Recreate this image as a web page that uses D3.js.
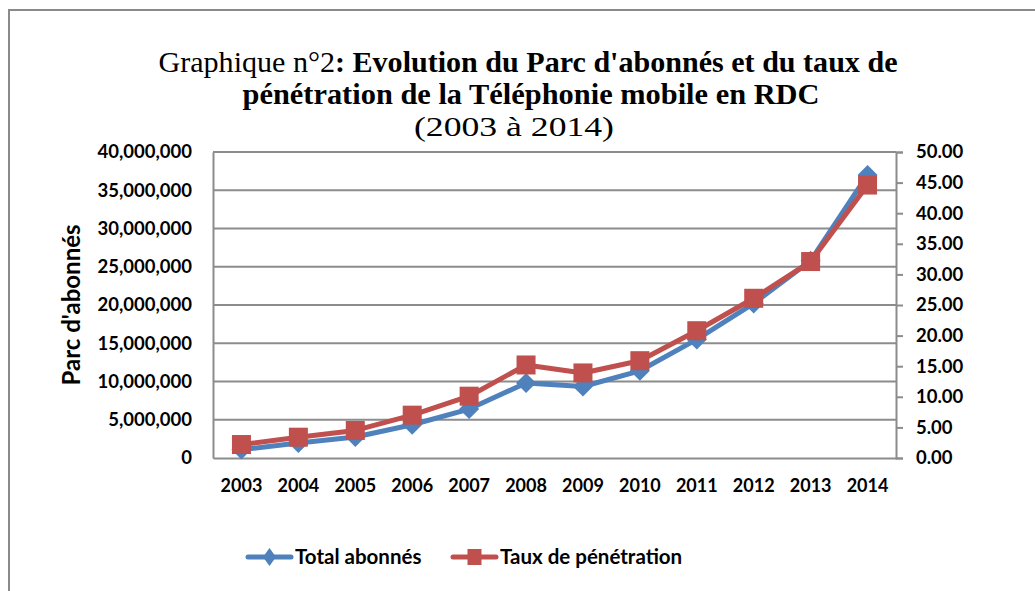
<!DOCTYPE html>
<html>
<head>
<meta charset="utf-8">
<script src="https://cdn.jsdelivr.net/npm/d3@7"></script>
<style>
  body { margin: 0; background: #fff; }
  svg { display: block; }
</style>
</head>
<body>
<svg width="1035" height="591"></svg>
<script>
// Data
const years = ["2003", "2004", "2005", "2006", "2007", "2008", "2009", "2010", "2011", "2012", "2013", "2014"];
const totalAbonnes = [1100000, 1950000, 2750000, 4350000, 6400000, 9800000, 9350000, 11400000, 15500000, 20200000, 25800000, 37000000];
const tauxPenetration = [2.2, 3.4, 4.5, 7.0, 10.1, 15.2, 13.9, 15.9, 20.8, 26.1, 32.1, 44.6];
const leftTicks = [0, 5000000, 10000000, 15000000, 20000000, 25000000, 30000000, 35000000, 40000000];
const rightTicks = [0, 5, 10, 15, 20, 25, 30, 35, 40, 45, 50];

const blue = "#4f81bd", red = "#c0504d", grid = "#8c8c8c";
const sans = "Lato, 'Open Sans', sans-serif";

const svg = d3.select("svg");

// outer frame (only top and left edges visible)
svg.append("path")
  .attr("d", "M9,591 V10 H1035")
  .attr("fill", "none")
  .attr("stroke", "#8a8a8a")
  .attr("stroke-width", 2);

const plot = { left: 213, right: 896, top: 152, bottom: 458 };

const x = d3.scaleBand().domain(years).range([plot.left, plot.right]);
const yL = d3.scaleLinear().domain([0, 40000000]).range([plot.bottom, plot.top]);
const yR = d3.scaleLinear().domain([0, 50]).range([plot.bottom, plot.top]);

// Title
const title = svg.append("text")
  .attr("text-anchor", "middle")
  .attr("font-family", "'Liberation Serif', 'Times New Roman', serif")
  .attr("font-size", 29)
  .attr("fill", "#000");
const t1 = title.append("tspan").attr("x", 528).attr("y", 72)
  .attr("textLength", 739).attr("lengthAdjust", "spacingAndGlyphs");
t1.append("tspan").text("Graphique n°2");
t1.append("tspan").attr("font-weight", "bold").text(": Evolution du Parc d'abonnés et du taux de");
title.append("tspan").attr("x", 531).attr("y", 104).attr("font-weight", "bold")
  .attr("textLength", 577).attr("lengthAdjust", "spacingAndGlyphs")
  .text("pénétration de la Téléphonie mobile en RDC");
title.append("tspan").attr("x", 514).attr("y", 136).attr("font-size", 27)
  .attr("textLength", 200).attr("lengthAdjust", "spacingAndGlyphs")
  .text("(2003 à 2014)");

// gridlines
svg.append("g")
  .selectAll("line")
  .data(leftTicks.slice(1))
  .join("line")
  .attr("x1", plot.left).attr("x2", plot.right)
  .attr("y1", d => yL(d)).attr("y2", d => yL(d))
  .attr("stroke", grid).attr("stroke-width", 2);

// left axis
const axL = svg.append("g")
  .attr("transform", `translate(${plot.left},0)`)
  .call(d3.axisLeft(yL).tickValues(leftTicks).tickSize(0).tickPadding(21).tickFormat(d3.format(",")));
axL.select(".domain").attr("stroke", grid).attr("stroke-width", 2);
axL.selectAll("text")
  .attr("font-family", sans).attr("font-weight", "bold").attr("font-size", 18.5).attr("fill", "#000");

// bottom axis
const axB = svg.append("g")
  .attr("transform", `translate(0,${plot.bottom})`)
  .call(d3.axisBottom(x).tickSize(0).tickPadding(21));
axB.select(".domain").attr("stroke", grid).attr("stroke-width", 2);
axB.selectAll("text")
  .attr("font-family", sans).attr("font-weight", "bold").attr("font-size", 18).attr("fill", "#000");

// right axis
const axR = svg.append("g")
  .attr("transform", `translate(${plot.right},0)`)
  .call(d3.axisRight(yR).tickValues(rightTicks).tickSize(7).tickSizeOuter(7).tickPadding(13).tickFormat(d3.format(".2f")));
axR.select(".domain").attr("stroke", grid).attr("stroke-width", 2);
axR.selectAll(".tick line").attr("stroke", grid).attr("stroke-width", 2);
axR.selectAll("text")
  .attr("font-family", sans).attr("font-weight", "bold").attr("font-size", 18.5).attr("fill", "#000");

// y axis title
svg.append("text")
  .attr("transform", "translate(80,305) rotate(-90)")
  .attr("text-anchor", "middle")
  .attr("font-family", sans).attr("font-weight", "bold").attr("font-size", 24)
  .text("Parc d'abonnés");

const cx = d => x(d) + x.bandwidth() / 2;

// Total abonnés series
const lineL = d3.line().x((d, i) => cx(years[i])).y(d => yL(d));
svg.append("path")
  .datum(totalAbonnes)
  .attr("fill", "none").attr("stroke", blue).attr("stroke-width", 5)
  .attr("stroke-linejoin", "round")
  .attr("d", lineL);
svg.append("g")
  .selectAll("path")
  .data(totalAbonnes)
  .join("path")
  .attr("transform", (d, i) => `translate(${cx(years[i])},${yL(d)})`)
  .attr("d", "M0,-10 L10,0 L0,10 L-10,0 Z")
  .attr("fill", blue);

// Taux de pénétration series
const lineR = d3.line().x((d, i) => cx(years[i])).y(d => yR(d));
svg.append("path")
  .datum(tauxPenetration)
  .attr("fill", "none").attr("stroke", red).attr("stroke-width", 5)
  .attr("stroke-linejoin", "round")
  .attr("d", lineR);
svg.append("g")
  .selectAll("rect")
  .data(tauxPenetration)
  .join("rect")
  .attr("x", (d, i) => cx(years[i]) - 9.5)
  .attr("y", d => yR(d) - 9.5)
  .attr("width", 19).attr("height", 19)
  .attr("fill", red);

// Legend
const legend = [
  { name: "Total abonnés", color: blue, x: 248, shape: "diamond" },
  { name: "Taux de pénétration", color: red, x: 453, shape: "square" }
];
const lg = svg.append("g");
legend.forEach(l => {
  const g = lg.append("g").attr("transform", `translate(${l.x},557)`);
  g.append("line").attr("x1", 0).attr("x2", 43).attr("y1", 0).attr("y2", 0)
    .attr("stroke", l.color).attr("stroke-width", 5).attr("stroke-linecap", "round");
  if (l.shape === "diamond") {
    g.append("path").attr("d", "M21.5,-9 L28,0 L21.5,9 L15,0 Z").attr("fill", l.color);
  } else {
    g.append("rect").attr("x", 14.5).attr("y", -8).attr("width", 14).attr("height", 16).attr("fill", l.color);
  }
  g.append("text").attr("x", 47).attr("y", 0).attr("dy", "0.35em")
    .attr("font-family", sans).attr("font-weight", "bold").attr("font-size", 20.5)
    .text(l.name);
});
</script>
</body>
</html>
